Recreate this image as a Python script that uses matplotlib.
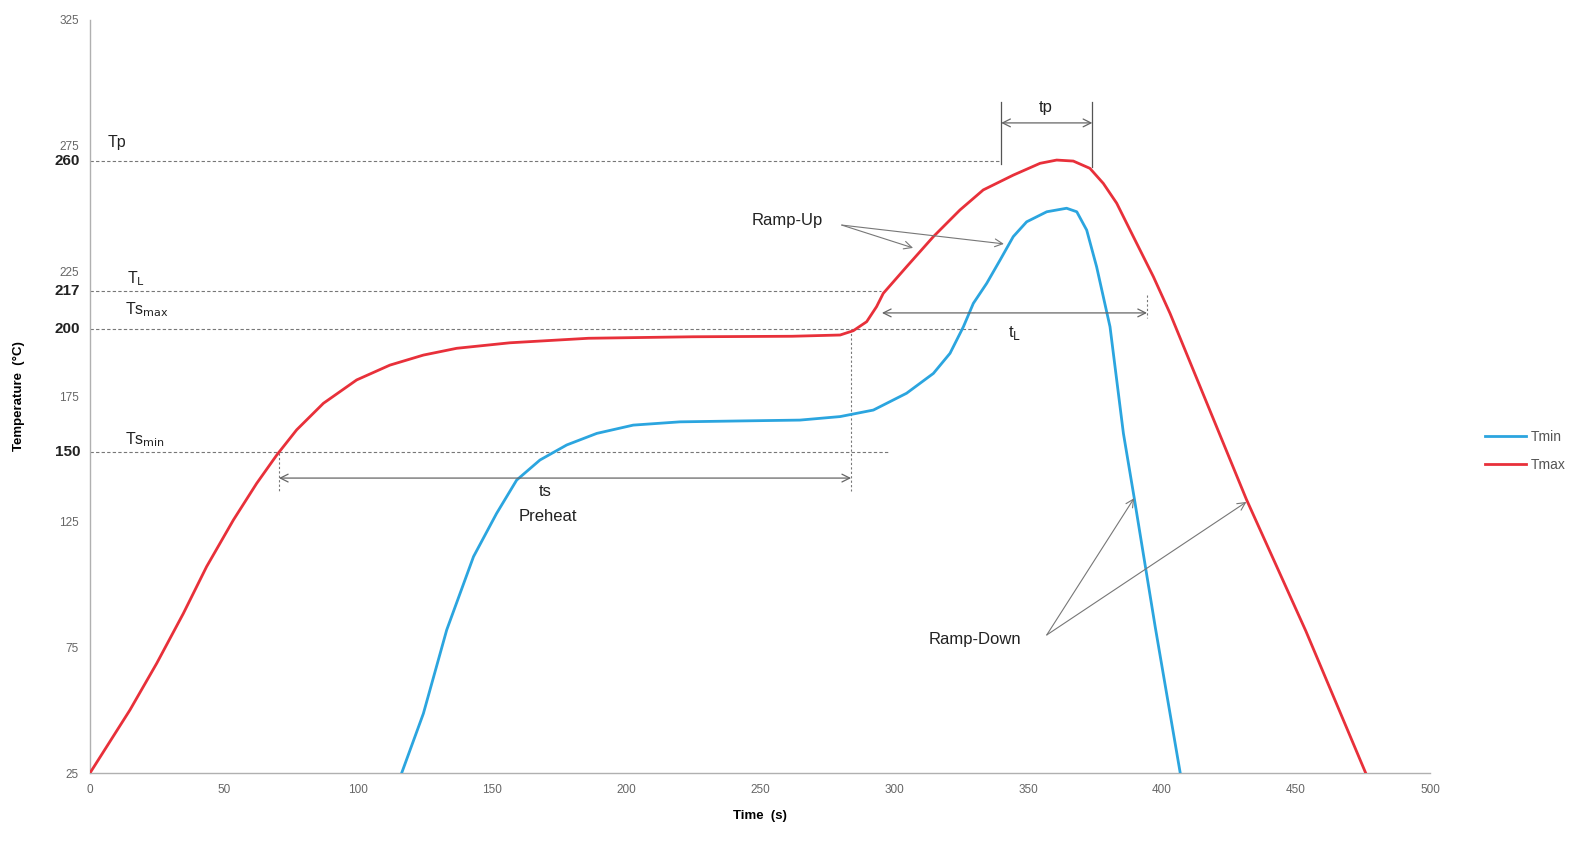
import matplotlib
matplotlib.use("Agg")
import matplotlib.pyplot as plt

plt.rcParams['font.family'] = ['Liberation Sans', 'DejaVu Sans']

# ---- data ----
tmax_time = [0, 14.9, 24.9, 34.8, 43.5, 53.5, 62.2, 69.7, 77.1, 87.1, 99.5, 111.9, 124.4,
             136.8, 156.7, 186, 225, 262, 279.9, 284.8, 289.8, 293.5, 296, 304.7, 314.7,
             324.6, 333.3, 344.5, 354.5, 360.7, 366.9, 373.1, 378.1, 383.1, 389.3, 396.8,
             403, 431.5, 453.7, 476]
tmax_temp = [25, 50.1, 68.7, 88.5, 107.2, 125.8, 140.4, 151.7, 161.7, 172.3, 181.6, 187.5, 191.5,
             194.2, 196.4, 198.2, 198.8, 199, 199.5, 201.2, 204.8, 210.8, 216.1, 226.7, 238.7,
             249.3, 257.3, 263.2, 267.9, 269.2, 268.8, 265.9, 259.9, 252, 238.7, 222.7,
             208.1, 134, 81.5, 25]

tmin_time = [116.3, 124.4, 133.1, 143.1, 151.7, 159.2, 167.9, 177.9, 189.1, 202.7, 220.1,
             245, 264.9, 279.9, 292.3, 304.7, 314.7, 320.9, 325.9, 329.6, 334.6, 339.6,
             344.5, 349.5, 357, 364.4, 368.2, 371.9, 375.6, 380.6, 385.6, 389.6, 397.5, 406.8]
tmin_temp = [25, 48.7, 82, 111.2, 128.4, 141.7, 149.7, 155.7, 160.3, 163.6, 164.9,
             165.3, 165.6, 167, 169.6, 176.3, 184.2, 192.2, 202.8, 212.1, 220.1, 229.4,
             238.7, 244.6, 248.6, 250, 248.6, 241.3, 226.7, 202.8, 160.3, 134.8, 83, 25]

series_names = ["Tmin", "Tmax"]
x_ticks = [0, 50, 100, 150, 200, 250, 300, 350, 400, 450, 500]
y_ticks = [25, 75, 125, 175, 225, 275, 325]

level_labels = ["260", "217", "200", "150"]
level_y = [269, 217, 202, 153]
level_xend = [340, 295, 331, 298]
level_names = ["Tp", "T$_\\mathrm{L}$", "Ts$_\\mathrm{max}$", "Ts$_\\mathrm{min}$"]

RED = "#e8303a"
BLUE = "#2ba5df"
GRAY = "#777777"

fig = plt.figure(figsize=(15.72, 8.41), dpi=100)
ax = fig.add_axes([90/1572, 1-773/841, (1430-90)/1572, (773-20)/841])

l1, = ax.plot(tmin_time, tmin_temp, color=BLUE, lw=2.0, solid_joinstyle='round', zorder=3)
l2, = ax.plot(tmax_time, tmax_temp, color=RED, lw=2.0, solid_joinstyle='round', zorder=3)

ax.set_xlim(0, 500)
ax.set_ylim(25, 325)
ax.set_xticks(x_ticks)
ax.set_yticks(y_ticks)
ax.tick_params(length=0, labelsize=8.5, labelcolor="#666666", pad=8)
for s in ["top", "right"]:
    ax.spines[s].set_visible(False)
for s in ["left", "bottom"]:
    ax.spines[s].set_color("#b0b0b0")
    ax.spines[s].set_linewidth(1.0)

ax.set_xlabel("Time  (s)", fontsize=9.5, fontweight="bold", labelpad=10)
ax.set_ylabel("Temperature  (°C)", fontsize=9.5, fontweight="bold")
ax.yaxis.set_label_coords((25 - 90) / 1340, 0.5)

# level lines and labels
dash = (0, (3, 2))
for lab, yv, xe in zip(level_labels, level_y, level_xend):
    ax.plot([0, xe], [yv, yv], color=GRAY, lw=0.8, ls=dash, zorder=1)
    ax.text(-3.7, yv, lab, ha="right", va="center", fontsize=11, fontweight="bold",
            color="#222222", clip_on=False)
name_pos = [(6.7, 276), (13.8, 222), (13, 209.5), (13, 157.7)]
for nm, (xx, yy) in zip(level_names, name_pos):
    ax.text(xx, yy, nm, ha="left", va="center", fontsize=11.5, color="#222222")

# vertical guides
ax.plot([284, 284], [202, 137.5], color=GRAY, lw=0.8, ls=(0, (2, 2)), zorder=1)
ax.plot([70.5, 70.5], [152.5, 136.5], color=GRAY, lw=0.8, ls=(0, (2, 2)), zorder=1)
ax.plot([394.5, 394.5], [215.4, 206.3], color=GRAY, lw=0.8, ls=(0, (2, 2)), zorder=1)
ax.plot([340, 340], [292.3, 267.5], color="#555555", lw=0.9, zorder=1)
ax.plot([374, 374], [292.3, 266.5], color="#555555", lw=0.9, zorder=1)

arrow_kw = dict(arrowstyle="<->", color="#666666", lw=0.9, shrinkA=0, shrinkB=0,
                mutation_scale=14)
ax.annotate("", xy=(70.5, 142.5), xytext=(284, 142.5), arrowprops=arrow_kw)
ax.annotate("", xy=(295.5, 208.3), xytext=(394.4, 208.3), arrowprops=arrow_kw)
ax.annotate("", xy=(340, 284), xytext=(374, 284), arrowprops=arrow_kw)

ax.text(169.8, 137, "ts", ha="center", va="center", fontsize=12, color="#222222")
ax.text(171, 127, "Preheat", ha="center", va="center", fontsize=12, color="#222222")
ax.text(356.7, 290, "tp", ha="center", va="center", fontsize=12, color="#222222")
ax.text(345, 200.3, "t$_\\mathrm{L}$", ha="center", va="center", fontsize=12, color="#222222")

one_kw = dict(arrowstyle="->", color="#777777", lw=0.8, shrinkA=0, shrinkB=0,
              mutation_scale=14)
ax.text(260, 245, "Ramp-Up", ha="center", va="center", fontsize=12, color="#222222")
ax.annotate("", xy=(307.1, 234.2), xytext=(280.5, 243.3), arrowprops=one_kw)
ax.annotate("", xy=(341, 235.8), xytext=(280.5, 243.3), arrowprops=one_kw)

ax.text(330.2, 78, "Ramp-Down", ha="center", va="center", fontsize=12, color="#222222")
ax.annotate("", xy=(389.6, 134.5), xytext=(357, 80), arrowprops=one_kw)
ax.annotate("", xy=(431.5, 133), xytext=(357, 80), arrowprops=one_kw)

leg = fig.legend([l1, l2], series_names, loc="center left",
                 bbox_to_anchor=(1472/1572, 1-451/841), frameon=False,
                 fontsize=10, handlelength=3.0, handletextpad=0.3, labelspacing=1.0)
for t in leg.get_texts():
    t.set_color("#555555")

fig.savefig("out.png", dpi=100)
